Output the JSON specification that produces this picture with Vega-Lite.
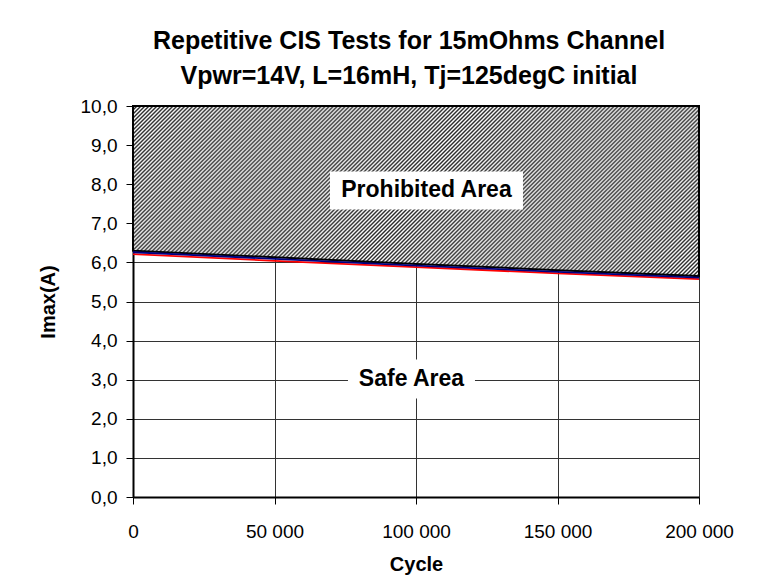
{
  "$schema": "https://vega.github.io/schema/vega-lite/v6.json",
  "width": 566,
  "height": 391,
  "autosize": {"type": "none"},
  "padding": {"left": 133, "top": 106, "right": 67, "bottom": 82},
  "background": "#ffffff",
  "title": {
    "text": ["Repetitive CIS Tests for 15mOhms Channel", "Vpwr=14V, L=16mH, Tj=125degC initial"],
    "fontSize": 25,
    "fontWeight": "bold",
    "lineHeight": 35,
    "anchor": "middle",
    "offset": 8,
    "dx": -7,
    "color": "#000000",
    "font": "Liberation Sans"
  },
  "datasets": {
    "curves": [
      {"cycle": 0, "limit": 6.30, "blue": 6.26, "red": 6.21},
      {"cycle": 50000, "limit": 6.13, "blue": 6.09, "red": 6.04},
      {"cycle": 100000, "limit": 5.96, "blue": 5.92, "red": 5.88},
      {"cycle": 150000, "limit": 5.80, "blue": 5.76, "red": 5.72},
      {"cycle": 200000, "limit": 5.65, "blue": 5.61, "red": 5.57}
    ],
    "labels": [
      {"label": "Prohibited Area", "cycle": 103700, "imax": 7.84},
      {"label": "Safe Area", "cycle": 98400, "imax": 3.02}
    ]
  },
  "encoding": {
    "x": {
      "field": "cycle",
      "type": "quantitative",
      "title": "Cycle",
      "scale": {"domain": [0, 200000], "nice": false, "zero": false},
      "axis": {
        "values": [0, 50000, 100000, 150000, 200000],
        "tickCount": 20,
        "labelExpr": "replace(format(datum.value, ','), ',', ' ')",
        "labelFlush": false
      }
    }
  },
  "layer": [
    {
      "data": {"name": "curves"},
      "mark": {
        "type": "area",
        "stroke": "#000000",
        "strokeWidth": 2,
        "fill": {
          "gradient": "linear",
          "x1": 0, "y1": 0, "x2": 1.3, "y2": 0.391,
          "stops": [
{"offset":0,"color":"#2a2a2a"},{"offset":0.0025,"color":"#fff"},{"offset":0.005,"color":"#2a2a2a"},{"offset":0.0075,"color":"#fff"},
{"offset":0.01,"color":"#2a2a2a"},{"offset":0.0125,"color":"#fff"},{"offset":0.015,"color":"#2a2a2a"},{"offset":0.0175,"color":"#fff"},
{"offset":0.02,"color":"#2a2a2a"},{"offset":0.0225,"color":"#fff"},{"offset":0.025,"color":"#2a2a2a"},{"offset":0.0275,"color":"#fff"},
{"offset":0.03,"color":"#2a2a2a"},{"offset":0.0325,"color":"#fff"},{"offset":0.035,"color":"#2a2a2a"},{"offset":0.0375,"color":"#fff"},
{"offset":0.04,"color":"#2a2a2a"},{"offset":0.0425,"color":"#fff"},{"offset":0.045,"color":"#2a2a2a"},{"offset":0.0475,"color":"#fff"},
{"offset":0.05,"color":"#2a2a2a"},{"offset":0.0525,"color":"#fff"},{"offset":0.055,"color":"#2a2a2a"},{"offset":0.0575,"color":"#fff"},
{"offset":0.06,"color":"#2a2a2a"},{"offset":0.0625,"color":"#fff"},{"offset":0.065,"color":"#2a2a2a"},{"offset":0.0675,"color":"#fff"},
{"offset":0.07,"color":"#2a2a2a"},{"offset":0.0725,"color":"#fff"},{"offset":0.075,"color":"#2a2a2a"},{"offset":0.0775,"color":"#fff"},
{"offset":0.08,"color":"#2a2a2a"},{"offset":0.0825,"color":"#fff"},{"offset":0.085,"color":"#2a2a2a"},{"offset":0.0875,"color":"#fff"},
{"offset":0.09,"color":"#2a2a2a"},{"offset":0.0925,"color":"#fff"},{"offset":0.095,"color":"#2a2a2a"},{"offset":0.0975,"color":"#fff"},
{"offset":0.1,"color":"#2a2a2a"},{"offset":0.1025,"color":"#fff"},{"offset":0.105,"color":"#2a2a2a"},{"offset":0.1075,"color":"#fff"},
{"offset":0.11,"color":"#2a2a2a"},{"offset":0.1125,"color":"#fff"},{"offset":0.115,"color":"#2a2a2a"},{"offset":0.1175,"color":"#fff"},
{"offset":0.12,"color":"#2a2a2a"},{"offset":0.1225,"color":"#fff"},{"offset":0.125,"color":"#2a2a2a"},{"offset":0.1275,"color":"#fff"},
{"offset":0.13,"color":"#2a2a2a"},{"offset":0.1325,"color":"#fff"},{"offset":0.135,"color":"#2a2a2a"},{"offset":0.1375,"color":"#fff"},
{"offset":0.14,"color":"#2a2a2a"},{"offset":0.1425,"color":"#fff"},{"offset":0.145,"color":"#2a2a2a"},{"offset":0.1475,"color":"#fff"},
{"offset":0.15,"color":"#2a2a2a"},{"offset":0.1525,"color":"#fff"},{"offset":0.155,"color":"#2a2a2a"},{"offset":0.1575,"color":"#fff"},
{"offset":0.16,"color":"#2a2a2a"},{"offset":0.1625,"color":"#fff"},{"offset":0.165,"color":"#2a2a2a"},{"offset":0.1675,"color":"#fff"},
{"offset":0.17,"color":"#2a2a2a"},{"offset":0.1725,"color":"#fff"},{"offset":0.175,"color":"#2a2a2a"},{"offset":0.1775,"color":"#fff"},
{"offset":0.18,"color":"#2a2a2a"},{"offset":0.1825,"color":"#fff"},{"offset":0.185,"color":"#2a2a2a"},{"offset":0.1875,"color":"#fff"},
{"offset":0.19,"color":"#2a2a2a"},{"offset":0.1925,"color":"#fff"},{"offset":0.195,"color":"#2a2a2a"},{"offset":0.1975,"color":"#fff"},
{"offset":0.2,"color":"#2a2a2a"},{"offset":0.2025,"color":"#fff"},{"offset":0.205,"color":"#2a2a2a"},{"offset":0.2075,"color":"#fff"},
{"offset":0.21,"color":"#2a2a2a"},{"offset":0.2125,"color":"#fff"},{"offset":0.215,"color":"#2a2a2a"},{"offset":0.2175,"color":"#fff"},
{"offset":0.22,"color":"#2a2a2a"},{"offset":0.2225,"color":"#fff"},{"offset":0.225,"color":"#2a2a2a"},{"offset":0.2275,"color":"#fff"},
{"offset":0.23,"color":"#2a2a2a"},{"offset":0.2325,"color":"#fff"},{"offset":0.235,"color":"#2a2a2a"},{"offset":0.2375,"color":"#fff"},
{"offset":0.24,"color":"#2a2a2a"},{"offset":0.2425,"color":"#fff"},{"offset":0.245,"color":"#2a2a2a"},{"offset":0.2475,"color":"#fff"},
{"offset":0.25,"color":"#2a2a2a"},{"offset":0.2525,"color":"#fff"},{"offset":0.255,"color":"#2a2a2a"},{"offset":0.2575,"color":"#fff"},
{"offset":0.26,"color":"#2a2a2a"},{"offset":0.2625,"color":"#fff"},{"offset":0.265,"color":"#2a2a2a"},{"offset":0.2675,"color":"#fff"},
{"offset":0.27,"color":"#2a2a2a"},{"offset":0.2725,"color":"#fff"},{"offset":0.275,"color":"#2a2a2a"},{"offset":0.2775,"color":"#fff"},
{"offset":0.28,"color":"#2a2a2a"},{"offset":0.2825,"color":"#fff"},{"offset":0.285,"color":"#2a2a2a"},{"offset":0.2875,"color":"#fff"},
{"offset":0.29,"color":"#2a2a2a"},{"offset":0.2925,"color":"#fff"},{"offset":0.295,"color":"#2a2a2a"},{"offset":0.2975,"color":"#fff"},
{"offset":0.3,"color":"#2a2a2a"},{"offset":0.3025,"color":"#fff"},{"offset":0.305,"color":"#2a2a2a"},{"offset":0.3075,"color":"#fff"},
{"offset":0.31,"color":"#2a2a2a"},{"offset":0.3125,"color":"#fff"},{"offset":0.315,"color":"#2a2a2a"},{"offset":0.3175,"color":"#fff"},
{"offset":0.32,"color":"#2a2a2a"},{"offset":0.3225,"color":"#fff"},{"offset":0.325,"color":"#2a2a2a"},{"offset":0.3275,"color":"#fff"},
{"offset":0.33,"color":"#2a2a2a"},{"offset":0.3325,"color":"#fff"},{"offset":0.335,"color":"#2a2a2a"},{"offset":0.3375,"color":"#fff"},
{"offset":0.34,"color":"#2a2a2a"},{"offset":0.3425,"color":"#fff"},{"offset":0.345,"color":"#2a2a2a"},{"offset":0.3475,"color":"#fff"},
{"offset":0.35,"color":"#2a2a2a"},{"offset":0.3525,"color":"#fff"},{"offset":0.355,"color":"#2a2a2a"},{"offset":0.3575,"color":"#fff"},
{"offset":0.36,"color":"#2a2a2a"},{"offset":0.3625,"color":"#fff"},{"offset":0.365,"color":"#2a2a2a"},{"offset":0.3675,"color":"#fff"},
{"offset":0.37,"color":"#2a2a2a"},{"offset":0.3725,"color":"#fff"},{"offset":0.375,"color":"#2a2a2a"},{"offset":0.3775,"color":"#fff"},
{"offset":0.38,"color":"#2a2a2a"},{"offset":0.3825,"color":"#fff"},{"offset":0.385,"color":"#2a2a2a"},{"offset":0.3875,"color":"#fff"},
{"offset":0.39,"color":"#2a2a2a"},{"offset":0.3925,"color":"#fff"},{"offset":0.395,"color":"#2a2a2a"},{"offset":0.3975,"color":"#fff"},
{"offset":0.4,"color":"#2a2a2a"},{"offset":0.4025,"color":"#fff"},{"offset":0.405,"color":"#2a2a2a"},{"offset":0.4075,"color":"#fff"},
{"offset":0.41,"color":"#2a2a2a"},{"offset":0.4125,"color":"#fff"},{"offset":0.415,"color":"#2a2a2a"},{"offset":0.4175,"color":"#fff"},
{"offset":0.42,"color":"#2a2a2a"},{"offset":0.4225,"color":"#fff"},{"offset":0.425,"color":"#2a2a2a"},{"offset":0.4275,"color":"#fff"},
{"offset":0.43,"color":"#2a2a2a"},{"offset":0.4325,"color":"#fff"},{"offset":0.435,"color":"#2a2a2a"},{"offset":0.4375,"color":"#fff"},
{"offset":0.44,"color":"#2a2a2a"},{"offset":0.4425,"color":"#fff"},{"offset":0.445,"color":"#2a2a2a"},{"offset":0.4475,"color":"#fff"},
{"offset":0.45,"color":"#2a2a2a"},{"offset":0.4525,"color":"#fff"},{"offset":0.455,"color":"#2a2a2a"},{"offset":0.4575,"color":"#fff"},
{"offset":0.46,"color":"#2a2a2a"},{"offset":0.4625,"color":"#fff"},{"offset":0.465,"color":"#2a2a2a"},{"offset":0.4675,"color":"#fff"},
{"offset":0.47,"color":"#2a2a2a"},{"offset":0.4725,"color":"#fff"},{"offset":0.475,"color":"#2a2a2a"},{"offset":0.4775,"color":"#fff"},
{"offset":0.48,"color":"#2a2a2a"},{"offset":0.4825,"color":"#fff"},{"offset":0.485,"color":"#2a2a2a"},{"offset":0.4875,"color":"#fff"},
{"offset":0.49,"color":"#2a2a2a"},{"offset":0.4925,"color":"#fff"},{"offset":0.495,"color":"#2a2a2a"},{"offset":0.4975,"color":"#fff"},
{"offset":0.5,"color":"#2a2a2a"},{"offset":0.5025,"color":"#fff"},{"offset":0.505,"color":"#2a2a2a"},{"offset":0.5075,"color":"#fff"},
{"offset":0.51,"color":"#2a2a2a"},{"offset":0.5125,"color":"#fff"},{"offset":0.515,"color":"#2a2a2a"},{"offset":0.5175,"color":"#fff"},
{"offset":0.52,"color":"#2a2a2a"},{"offset":0.5225,"color":"#fff"},{"offset":0.525,"color":"#2a2a2a"},{"offset":0.5275,"color":"#fff"},
{"offset":0.53,"color":"#2a2a2a"},{"offset":0.5325,"color":"#fff"},{"offset":0.535,"color":"#2a2a2a"},{"offset":0.5375,"color":"#fff"},
{"offset":0.54,"color":"#2a2a2a"},{"offset":0.5425,"color":"#fff"},{"offset":0.545,"color":"#2a2a2a"},{"offset":0.5475,"color":"#fff"},
{"offset":0.55,"color":"#2a2a2a"},{"offset":0.5525,"color":"#fff"},{"offset":0.555,"color":"#2a2a2a"},{"offset":0.5575,"color":"#fff"},
{"offset":0.56,"color":"#2a2a2a"},{"offset":0.5625,"color":"#fff"},{"offset":0.565,"color":"#2a2a2a"},{"offset":0.5675,"color":"#fff"},
{"offset":0.57,"color":"#2a2a2a"},{"offset":0.5725,"color":"#fff"},{"offset":0.575,"color":"#2a2a2a"},{"offset":0.5775,"color":"#fff"},
{"offset":0.58,"color":"#2a2a2a"},{"offset":0.5825,"color":"#fff"},{"offset":0.585,"color":"#2a2a2a"},{"offset":0.5875,"color":"#fff"},
{"offset":0.59,"color":"#2a2a2a"},{"offset":0.5925,"color":"#fff"},{"offset":0.595,"color":"#2a2a2a"},{"offset":0.5975,"color":"#fff"},
{"offset":0.6,"color":"#2a2a2a"},{"offset":0.6025,"color":"#fff"},{"offset":0.605,"color":"#2a2a2a"},{"offset":0.6075,"color":"#fff"},
{"offset":0.61,"color":"#2a2a2a"},{"offset":0.6125,"color":"#fff"},{"offset":0.615,"color":"#2a2a2a"},{"offset":0.6175,"color":"#fff"},
{"offset":0.62,"color":"#2a2a2a"},{"offset":0.6225,"color":"#fff"},{"offset":0.625,"color":"#2a2a2a"},{"offset":0.6275,"color":"#fff"},
{"offset":0.63,"color":"#2a2a2a"},{"offset":0.6325,"color":"#fff"},{"offset":0.635,"color":"#2a2a2a"},{"offset":0.6375,"color":"#fff"},
{"offset":0.64,"color":"#2a2a2a"},{"offset":0.6425,"color":"#fff"},{"offset":0.645,"color":"#2a2a2a"},{"offset":0.6475,"color":"#fff"},
{"offset":0.65,"color":"#2a2a2a"},{"offset":0.6525,"color":"#fff"},{"offset":0.655,"color":"#2a2a2a"},{"offset":0.6575,"color":"#fff"},
{"offset":0.66,"color":"#2a2a2a"},{"offset":0.6625,"color":"#fff"},{"offset":0.665,"color":"#2a2a2a"},{"offset":0.6675,"color":"#fff"},
{"offset":0.67,"color":"#2a2a2a"},{"offset":0.6725,"color":"#fff"},{"offset":0.675,"color":"#2a2a2a"},{"offset":0.6775,"color":"#fff"},
{"offset":0.68,"color":"#2a2a2a"},{"offset":0.6825,"color":"#fff"},{"offset":0.685,"color":"#2a2a2a"},{"offset":0.6875,"color":"#fff"},
{"offset":0.69,"color":"#2a2a2a"},{"offset":0.6925,"color":"#fff"},{"offset":0.695,"color":"#2a2a2a"},{"offset":0.6975,"color":"#fff"},
{"offset":0.7,"color":"#2a2a2a"},{"offset":0.7025,"color":"#fff"},{"offset":0.705,"color":"#2a2a2a"},{"offset":0.7075,"color":"#fff"},
{"offset":0.71,"color":"#2a2a2a"},{"offset":0.7125,"color":"#fff"},{"offset":0.715,"color":"#2a2a2a"},{"offset":0.7175,"color":"#fff"},
{"offset":0.72,"color":"#2a2a2a"},{"offset":0.7225,"color":"#fff"},{"offset":0.725,"color":"#2a2a2a"},{"offset":0.7275,"color":"#fff"},
{"offset":0.73,"color":"#2a2a2a"},{"offset":0.7325,"color":"#fff"},{"offset":0.735,"color":"#2a2a2a"},{"offset":0.7375,"color":"#fff"},
{"offset":0.74,"color":"#2a2a2a"},{"offset":0.7425,"color":"#fff"},{"offset":0.745,"color":"#2a2a2a"},{"offset":0.7475,"color":"#fff"},
{"offset":0.75,"color":"#2a2a2a"},{"offset":0.7525,"color":"#fff"},{"offset":0.755,"color":"#2a2a2a"},{"offset":0.7575,"color":"#fff"},
{"offset":0.76,"color":"#2a2a2a"},{"offset":0.7625,"color":"#fff"},{"offset":0.765,"color":"#2a2a2a"},{"offset":0.7675,"color":"#fff"},
{"offset":0.77,"color":"#2a2a2a"},{"offset":0.7725,"color":"#fff"},{"offset":0.775,"color":"#2a2a2a"},{"offset":0.7775,"color":"#fff"},
{"offset":0.78,"color":"#2a2a2a"},{"offset":0.7825,"color":"#fff"},{"offset":0.785,"color":"#2a2a2a"},{"offset":0.7875,"color":"#fff"},
{"offset":0.79,"color":"#2a2a2a"},{"offset":0.7925,"color":"#fff"},{"offset":0.795,"color":"#2a2a2a"},{"offset":0.7975,"color":"#fff"},
{"offset":0.8,"color":"#2a2a2a"},{"offset":0.8025,"color":"#fff"},{"offset":0.805,"color":"#2a2a2a"},{"offset":0.8075,"color":"#fff"},
{"offset":0.81,"color":"#2a2a2a"},{"offset":0.8125,"color":"#fff"},{"offset":0.815,"color":"#2a2a2a"},{"offset":0.8175,"color":"#fff"},
{"offset":0.82,"color":"#2a2a2a"},{"offset":0.8225,"color":"#fff"},{"offset":0.825,"color":"#2a2a2a"},{"offset":0.8275,"color":"#fff"},
{"offset":0.83,"color":"#2a2a2a"},{"offset":0.8325,"color":"#fff"},{"offset":0.835,"color":"#2a2a2a"},{"offset":0.8375,"color":"#fff"},
{"offset":0.84,"color":"#2a2a2a"},{"offset":0.8425,"color":"#fff"},{"offset":0.845,"color":"#2a2a2a"},{"offset":0.8475,"color":"#fff"},
{"offset":0.85,"color":"#2a2a2a"},{"offset":0.8525,"color":"#fff"},{"offset":0.855,"color":"#2a2a2a"},{"offset":0.8575,"color":"#fff"},
{"offset":0.86,"color":"#2a2a2a"},{"offset":0.8625,"color":"#fff"},{"offset":0.865,"color":"#2a2a2a"},{"offset":0.8675,"color":"#fff"},
{"offset":0.87,"color":"#2a2a2a"},{"offset":0.8725,"color":"#fff"},{"offset":0.875,"color":"#2a2a2a"},{"offset":0.8775,"color":"#fff"},
{"offset":0.88,"color":"#2a2a2a"},{"offset":0.8825,"color":"#fff"},{"offset":0.885,"color":"#2a2a2a"},{"offset":0.8875,"color":"#fff"},
{"offset":0.89,"color":"#2a2a2a"},{"offset":0.8925,"color":"#fff"},{"offset":0.895,"color":"#2a2a2a"},{"offset":0.8975,"color":"#fff"},
{"offset":0.9,"color":"#2a2a2a"},{"offset":0.9025,"color":"#fff"},{"offset":0.905,"color":"#2a2a2a"},{"offset":0.9075,"color":"#fff"},
{"offset":0.91,"color":"#2a2a2a"},{"offset":0.9125,"color":"#fff"},{"offset":0.915,"color":"#2a2a2a"},{"offset":0.9175,"color":"#fff"},
{"offset":0.92,"color":"#2a2a2a"},{"offset":0.9225,"color":"#fff"},{"offset":0.925,"color":"#2a2a2a"},{"offset":0.9275,"color":"#fff"},
{"offset":0.93,"color":"#2a2a2a"}
          ]
        }
      },
      "encoding": {
        "y": {
          "field": "limit",
          "type": "quantitative",
          "title": "Imax(A)",
          "scale": {"domain": [0, 10], "nice": false},
          "axis": {
            "values": [0, 1, 2, 3, 4, 5, 6, 7, 8, 9, 10],
            "tickCount": 20,
            "labelExpr": "replace(format(datum.value, '.1f'), '.', ',')"
          }
        },
        "y2": {"datum": 10}
      }
    },
    {
      "data": {"name": "curves"},
      "mark": {"type": "line", "color": "#ff0000", "strokeWidth": 1.8},
      "encoding": {
        "y": {
          "field": "red", "type": "quantitative", "title": "Imax(A)",
          "axis": {"values": [0, 1, 2, 3, 4, 5, 6, 7, 8, 9, 10], "tickCount": 20, "labelExpr": "replace(format(datum.value, '.1f'), '.', ',')"}
        }
      }
    },
    {
      "data": {"name": "curves"},
      "mark": {"type": "line", "color": "#000080", "strokeWidth": 1.8},
      "encoding": {
        "y": {
          "field": "blue", "type": "quantitative", "title": "Imax(A)",
          "axis": {"values": [0, 1, 2, 3, 4, 5, 6, 7, 8, 9, 10], "tickCount": 20, "labelExpr": "replace(format(datum.value, '.1f'), '.', ',')"}
        }
      }
    },
    {
      "data": {"name": "labels"},
      "transform": [{"filter": "datum.label == 'Prohibited Area'"}],
      "mark": {"type": "point", "filled": true, "color": "#ffffff", "opacity": 1, "shape": "M-1,-0.197H1V0.197H-1Z", "size": 37249},
      "encoding": {
        "y": {
          "field": "imax", "type": "quantitative", "title": "Imax(A)",
          "axis": {"values": [0, 1, 2, 3, 4, 5, 6, 7, 8, 9, 10], "tickCount": 20, "labelExpr": "replace(format(datum.value, '.1f'), '.', ',')"}
        }
      }
    },
    {
      "data": {"name": "labels"},
      "transform": [{"filter": "datum.label == 'Safe Area'"}],
      "mark": {"type": "point", "filled": true, "color": "#ffffff", "opacity": 1, "shape": "M-1,-0.307H1V0.307H-1Z", "size": 16129},
      "encoding": {
        "y": {
          "field": "imax", "type": "quantitative", "title": "Imax(A)",
          "axis": {"values": [0, 1, 2, 3, 4, 5, 6, 7, 8, 9, 10], "tickCount": 20, "labelExpr": "replace(format(datum.value, '.1f'), '.', ',')"}
        }
      }
    },
    {
      "data": {"name": "labels"},
      "mark": {"type": "text", "fontSize": 23, "fontWeight": "bold", "font": "Liberation Sans", "color": "#000000", "align": "center", "baseline": "middle"},
      "encoding": {
        "y": {
          "field": "imax", "type": "quantitative", "title": "Imax(A)",
          "axis": {"values": [0, 1, 2, 3, 4, 5, 6, 7, 8, 9, 10], "tickCount": 20, "labelExpr": "replace(format(datum.value, '.1f'), '.', ',')"}
        },
        "text": {"field": "label"}
      }
    }
  ],
  "config": {
    "font": "Liberation Sans",
    "view": {"stroke": null},
    "axis": {
      "domainColor": "#000000",
      "domainWidth": 2,
      "tickColor": "#000000",
      "tickSize": 7,
      "tickWidth": 1,
      "grid": true,
      "gridColor": "#333333",
      "gridWidth": 1,
      "labelColor": "#000000",
      "labelFontSize": 19,
      "labelFont": "Liberation Sans",
      "labelOverlap": false,
      "titleColor": "#000000",
      "titleFontSize": 20,
      "titleFontWeight": "bold",
      "titleFont": "Liberation Sans"
    },
    "axisX": {"labelPadding": 18, "titlePadding": 13},
    "axisY": {"labelPadding": 9, "titlePadding": 22}
  }
}
